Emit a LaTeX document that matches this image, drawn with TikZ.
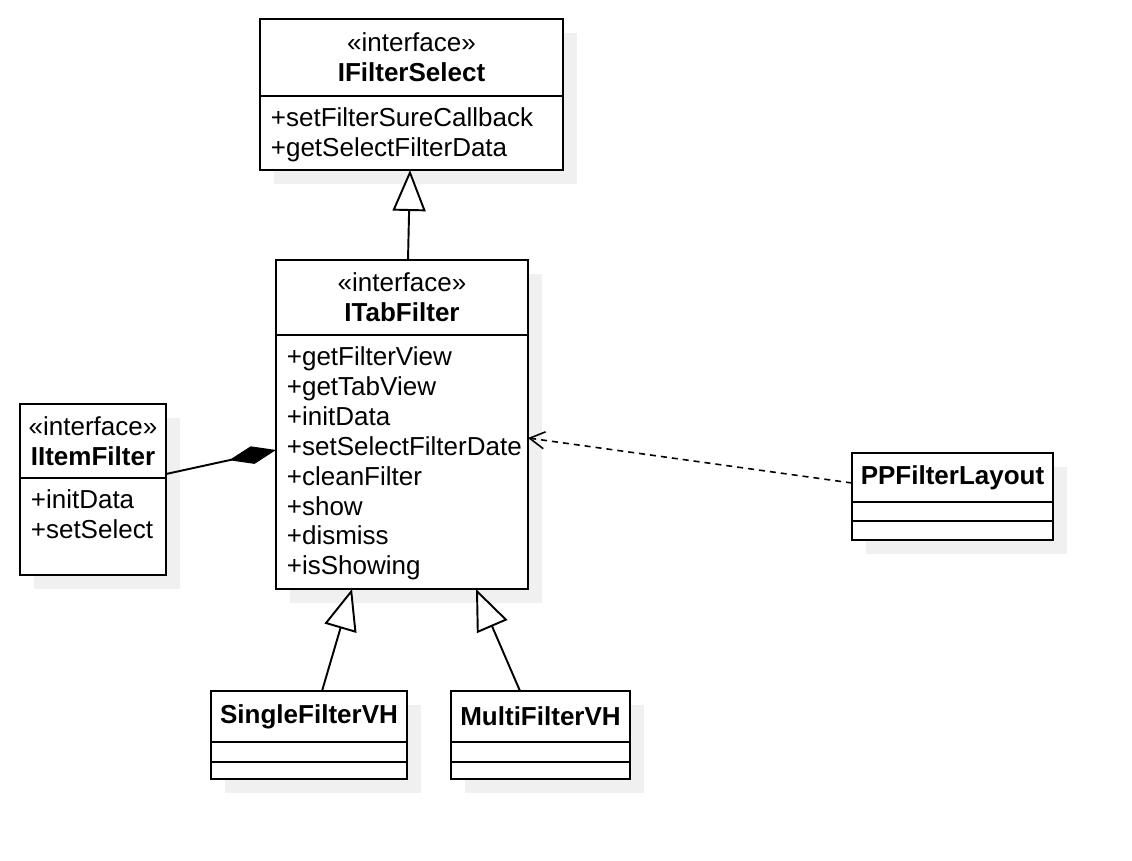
\documentclass[tikz,border=0pt]{standalone}
\usepackage{fontspec}
\setmainfont{Liberation Sans}
\usetikzlibrary{arrows.meta,positioning,shadows}

\begin{document}
\begin{tikzpicture}[
  x=0.02cm, y=-0.02cm,
  box/.style={draw, line width=1.1pt, fill=white, inner sep=0pt, outer sep=0pt,
    drop shadow={shadow xshift=0.28cm, shadow yshift=-0.28cm, fill=black!6, opacity=1}},
  hdr/.style={box, align=center, font=\fontsize{14.8}{17}\selectfont},
  ops/.style={box},
  mem/.style={anchor=north west, align=left, inner xsep=0.21cm, inner ysep=0.23cm, font=\fontsize{14.8}{17}\selectfont},
  gen/.style={line width=1.1pt, -{Triangle[open, length=0.82cm, width=0.66cm, fill=white]}},
  comp/.style={line width=1.1pt, -{Diamond[length=0.96cm, width=0.36cm]}},
  dep/.style={line width=0.9pt, dash pattern=on 0.12cm off 0.1cm, -{Straight Barb[length=0.3cm, width=0.34cm]}}]
\useasboundingbox (0,0) rectangle (1132,860);
% interfaces
\node[hdr, minimum width=6.06cm, minimum height=1.54cm] (fs) at (411.5,57.5) {«interface»\\\textbf{IFilterSelect}};
\node[ops, minimum width=6.06cm, minimum height=1.48cm, below=0pt of fs] (fsops) {};
\node[mem] (fsm) at (fsops.north west) {+setFilterSureCallback\\+getSelectFilterData};
\node[hdr, minimum width=5.04cm, minimum height=1.5cm] (tf) at (402,297.5) {«interface»\\\textbf{ITabFilter}};
\node[ops, minimum width=5.04cm, minimum height=5.08cm, below=0pt of tf] (tfops) {};
\node[mem] (tfm) at (tfops.north west) {+getFilterView\\+getTabView\\+initData\\+setSelectFilterDate\\+cleanFilter\\+show\\+dismiss\\+isShowing};
\node[hdr, minimum width=2.92cm, minimum height=1.48cm] (itf) at (93,441) {«interface»\\\textbf{IItemFilter}};
\node[ops, minimum width=2.92cm, minimum height=1.94cm, below=0pt of itf] (itfops) {};
\node[mem] (itfm) at (itfops.north west) {+initData\\+setSelect};
% classes
\node[hdr, minimum width=4.02cm, minimum height=0.98cm] (pp) at (952.5,477.5) {\textbf{PPFilterLayout}};
\node[ops, minimum width=4.02cm, minimum height=0.38cm, below=0pt of pp] (ppattr) {};
\node[ops, minimum width=4.02cm, minimum height=0.38cm, below=0pt of ppattr] (ppops) {};
\node[hdr, minimum width=3.92cm, minimum height=1.02cm] (sf) at (309,716.5) {\textbf{SingleFilterVH}};
\node[ops, minimum width=3.92cm, minimum height=0.4cm, below=0pt of sf] (sfattr) {};
\node[ops, minimum width=3.92cm, minimum height=0.34cm, below=0pt of sfattr] (sfops) {};
\node[hdr, minimum width=3.58cm, minimum height=1.02cm] (mf) at (540.5,716.5) {\textbf{MultiFilterVH}};
\node[ops, minimum width=3.58cm, minimum height=0.4cm, below=0pt of mf] (mfattr) {};
\node[ops, minimum width=3.58cm, minimum height=0.34cm, below=0pt of mfattr] (mfops) {};
% edges
\draw[gen] ([xshift=0.12cm]tf.north) -- ([xshift=-0.03cm]fsops.south);
\draw[gen] ([xshift=0.26cm]sf.north) -- ([xshift=-1.0cm]tfops.south);
\draw[gen] ([xshift=-0.41cm]mf.north) -- ([xshift=1.48cm]tfops.south);
\draw[comp] ([yshift=0.08cm]itf.south east) -- ([yshift=0.24cm]tfops.west);
\draw[dep] ([yshift=-0.11cm]pp.west) -- ([yshift=0.48cm]tfops.east);
\end{tikzpicture}
\end{document}
